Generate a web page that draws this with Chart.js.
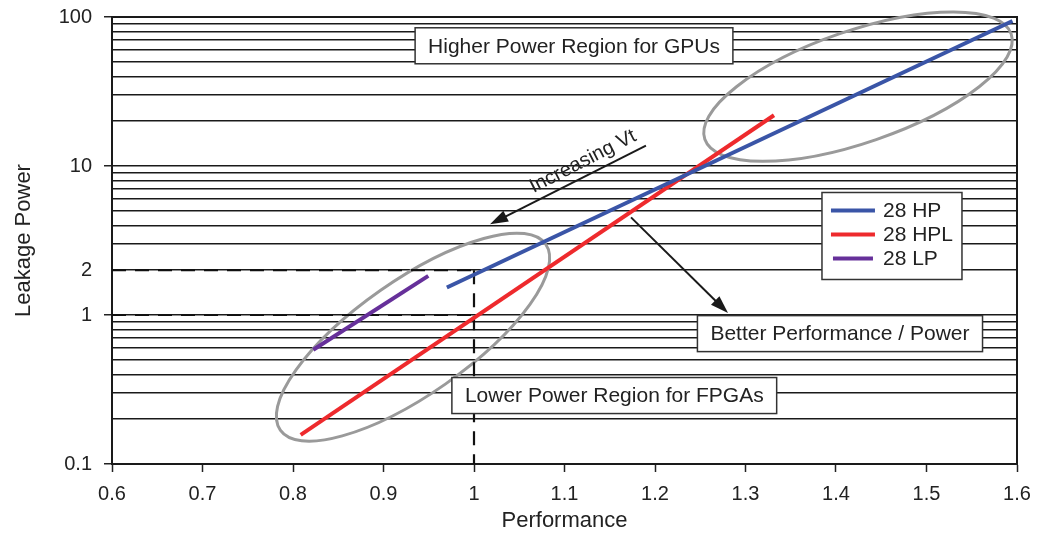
<!DOCTYPE html>
<html>
<head>
<meta charset="utf-8">
<script src="https://cdn.jsdelivr.net/npm/chart.js@4.4.1/dist/chart.umd.min.js"></script>
<style>
  html,body{margin:0;padding:0;background:#fff;}
  #box{width:1043px;height:540px;}
</style>
</head>
<body>
<div id="box"><canvas id="graph"></canvas></div>
<script>
//----- series -----//
const seriesNames  = ['28 HP','28 HPL','28 LP'];
const seriesColors = ['#3a55a7','#ee2a2d','#66309a'];
const hpX  = [0.970, 1.595];
const hpY  = [1.53, 94];
const hplX = [0.8085, 1.3315];
const hplY = [0.157, 21.9];
const lpX  = [0.8224, 0.9495];
const lpY  = [0.584, 1.83];

//----- dashed guides -----//
const guide2X = [0.6, 1.0];
const guide2Y = [2, 2];
const guide1X = [0.6, 1.0];
const guide1Y = [1, 1];
const guideVX = [1.0, 1.0];
const guideVY = [2, 0.1];

//----- axes -----//
const xTicks  = [0.6,0.7,0.8,0.9,1.0,1.1,1.2,1.3,1.4,1.5,1.6];
const yGrid   = [0.1,0.2,0.3,0.4,0.5,0.6,0.7,0.8,0.9,
                 1,2,3,4,5,6,7,8,9,
                 10,20,30,40,50,60,70,80,90,100];
const yLabels = [0.1,1,2,10,100];
const yMarks  = [0.1,1,10,100];//ticks with a mark on the axis

//----- annotations (data coordinates) -----//
const boxTexts  = ['Higher Power Region for GPUs','Lower Power Region for FPGAs','Better Performance / Power'];
const boxX      = [1.1105, 1.155, 1.4044];
const boxY      = [64.1, 0.288, 0.75];
const ellipseX  = [0.9326, 1.4243];
const ellipseY  = [0.710, 34.1];
const arrowFromX = [1.190, 1.1735];
const arrowFromY = [13.7, 4.52];
const arrowToX   = [1.0177, 1.2807];
const arrowToY   = [4.06, 1.03];
const vtText = 'Increasing Vt';
const vtX = 1.1204;
const vtY = 10.7;
const legendX = 1.3845;
const legendY = 6.64;

const FONT = "'Liberation Sans', Arial, Helvetica, sans-serif";

function toPoints(xs, ys){
  let pts = [];
  for(let i=0;i<xs.length;i++) pts.push({x:xs[i], y:ys[i]});
  return pts;
}

function pix(chart, x, y){
  return [chart.scales.x.getPixelForValue(x), chart.scales.y.getPixelForValue(y)];
}

function arrow(ctx, x1, y1, x2, y2){
  const ang = Math.atan2(y2-y1, x2-x1);
  const len = 18, half = 6;
  ctx.beginPath();
  ctx.moveTo(x1, y1);
  ctx.lineTo(x2 - Math.cos(ang)*len*0.8, y2 - Math.sin(ang)*len*0.8);
  ctx.stroke();
  ctx.beginPath();
  ctx.moveTo(x2, y2);
  ctx.lineTo(x2 - Math.cos(ang)*len - Math.sin(ang)*half, y2 - Math.sin(ang)*len + Math.cos(ang)*half);
  ctx.lineTo(x2 - Math.cos(ang)*len + Math.sin(ang)*half, y2 - Math.sin(ang)*len - Math.cos(ang)*half);
  ctx.closePath();
  ctx.fill();
}

//----- plugin for ellipses, frame, boxes, arrows, legend -----//
const notes = {
  id: 'notes',
  beforeDatasetsDraw(chart){
    const ctx = chart.ctx;
    const area = chart.chartArea;
    ctx.save();
    //frame
    ctx.strokeStyle = '#1a1a1a';
    ctx.lineWidth = 2;
    ctx.strokeRect(area.left, area.top, area.right-area.left, area.bottom-area.top);
    //ellipses: radii and tilt in pixels
    const radA = [162, 162];
    const radB = [57, 56];
    const tilt = [-35, -19];
    ctx.strokeStyle = '#9a9a9a';
    ctx.lineWidth = 3;
    for(let i=0;i<ellipseX.length;i++){
      const p = pix(chart, ellipseX[i], ellipseY[i]);
      ctx.beginPath();
      ctx.ellipse(p[0], p[1], radA[i], radB[i], tilt[i]*Math.PI/180, 0, 2*Math.PI);
      ctx.stroke();
    }
    ctx.restore();
  },
  afterDatasetsDraw(chart){
    const ctx = chart.ctx;
    ctx.save();
    //arrows
    ctx.strokeStyle = '#1a1a1a';
    ctx.fillStyle = '#1a1a1a';
    ctx.lineWidth = 2;
    for(let i=0;i<arrowFromX.length;i++){
      const a = pix(chart, arrowFromX[i], arrowFromY[i]);
      const b = pix(chart, arrowToX[i], arrowToY[i]);
      arrow(ctx, a[0], a[1], b[0], b[1]);
    }
    //rotated label
    const v = pix(chart, vtX, vtY);
    ctx.save();
    ctx.translate(v[0], v[1]);
    ctx.rotate(-27*Math.PI/180);
    ctx.font = '20px ' + FONT;
    ctx.fillStyle = '#222';
    ctx.textAlign = 'center';
    ctx.textBaseline = 'middle';
    ctx.fillText(vtText, 0, 0);
    ctx.restore();
    //text boxes
    ctx.font = '21px ' + FONT;
    ctx.textAlign = 'center';
    ctx.textBaseline = 'middle';
    for(let i=0;i<boxTexts.length;i++){
      const p = pix(chart, boxX[i], boxY[i]);
      const w = ctx.measureText(boxTexts[i]).width + 26;
      const h = 36;
      ctx.fillStyle = '#fff';
      ctx.fillRect(p[0]-w/2, p[1]-h/2, w, h);
      ctx.strokeStyle = '#333';
      ctx.lineWidth = 1.5;
      ctx.strokeRect(p[0]-w/2, p[1]-h/2, w, h);
      ctx.fillStyle = '#222';
      ctx.fillText(boxTexts[i], p[0], p[1]+1);
    }
    //legend
    const l = pix(chart, legendX, legendY);
    ctx.fillStyle = '#fff';
    ctx.fillRect(l[0], l[1], 140, 87);
    ctx.strokeStyle = '#333';
    ctx.lineWidth = 1.5;
    ctx.strokeRect(l[0], l[1], 140, 87);
    ctx.textAlign = 'left';
    for(let i=0;i<seriesNames.length;i++){
      const y = l[1] + 18 + i*24;
      ctx.strokeStyle = seriesColors[i];
      ctx.lineWidth = 4;
      ctx.beginPath();
      ctx.moveTo(l[0] + (i==2 ? 11 : 9), y);
      ctx.lineTo(l[0] + (i==2 ? 51 : 53), y);
      ctx.stroke();
      ctx.fillStyle = '#222';
      ctx.fillText(seriesNames[i], l[0] + 61, y + 1);
    }
    ctx.restore();
  }
};

//----- datasets -----//
let dataset = [];
const lineX = [hpX, hplX, lpX];
const lineY = [hpY, hplY, lpY];
for(let i=0;i<seriesNames.length;i++){
  dataset.push({
    label: seriesNames[i],
    data: toPoints(lineX[i], lineY[i]),
    showLine: true,
    borderColor: seriesColors[i],
    backgroundColor: seriesColors[i],
    borderWidth: 4,
    pointRadius: 0
  });
}
const guidesX = [guide2X, guide1X, guideVX];
const guidesY = [guide2Y, guide1Y, guideVY];
for(let i=0;i<guidesX.length;i++){
  dataset.push({
    label: 'guide',
    data: toPoints(guidesX[i], guidesY[i]),
    showLine: true,
    borderColor: '#111',
    borderWidth: 2.2,
    borderDash: [14, 9],
    pointRadius: 0
  });
}

new Chart(document.getElementById('graph'), {
  type: 'scatter',
  data: { datasets: dataset },
  plugins: [notes],
  options: {
    responsive: true,
    maintainAspectRatio: false,
    animation: false,
    layout: { padding: { left: 0, right: 26, top: 17, bottom: 0 } },
    plugins: { legend: { display: false }, tooltip: { enabled: false } },
    scales: {
      x: {
        type: 'linear',
        min: 0.6, max: 1.6,
        afterBuildTicks: function(scale){ scale.ticks = xTicks.map(v => ({value: v})); },
        afterFit: function(scale){ scale.height = 76; scale.paddingLeft = 0; scale.paddingRight = 0; },
        ticks: {
          autoSkip: false, maxRotation: 0, padding: 10,
          color: '#222', font: { family: FONT, size: 20 },
          callback: function(value){ return String(Number(value.toFixed(1))); }
        },
        grid: { drawOnChartArea: false, tickLength: 8, tickColor: '#222', tickWidth: 1.5 },
        border: { color: '#1a1a1a', width: 2 },
        title: { display: true, text: 'Performance', color: '#222',
                 font: { family: FONT, size: 22 }, padding: { top: 0, bottom: 6 } }
      },
      y: {
        type: 'logarithmic',
        min: 0.1, max: 100,
        afterBuildTicks: function(scale){ scale.ticks = yGrid.map(v => ({value: v})); },
        afterFit: function(scale){ scale.width = 112; scale.paddingTop = 0; scale.paddingBottom = 0; },
        ticks: {
          autoSkip: false, padding: 12,
          color: '#222', font: { family: FONT, size: 20 },
          callback: function(value){ return yLabels.indexOf(value) >= 0 ? String(value) : ''; }
        },
        grid: {
          color: '#1a1a1a', lineWidth: 1.5, tickLength: 8, tickWidth: 1.5,
          tickColor: function(c){ return (c.tick && yMarks.indexOf(c.tick.value) >= 0) ? '#222' : 'rgba(0,0,0,0)'; }
        },
        border: { color: '#1a1a1a', width: 2 },
        title: { display: true, text: 'Leakage Power', color: '#222',
                 font: { family: FONT, size: 22 }, padding: { top: 11, bottom: 0 } }
      }
    }
  }
});
</script>
</body>
</html>
